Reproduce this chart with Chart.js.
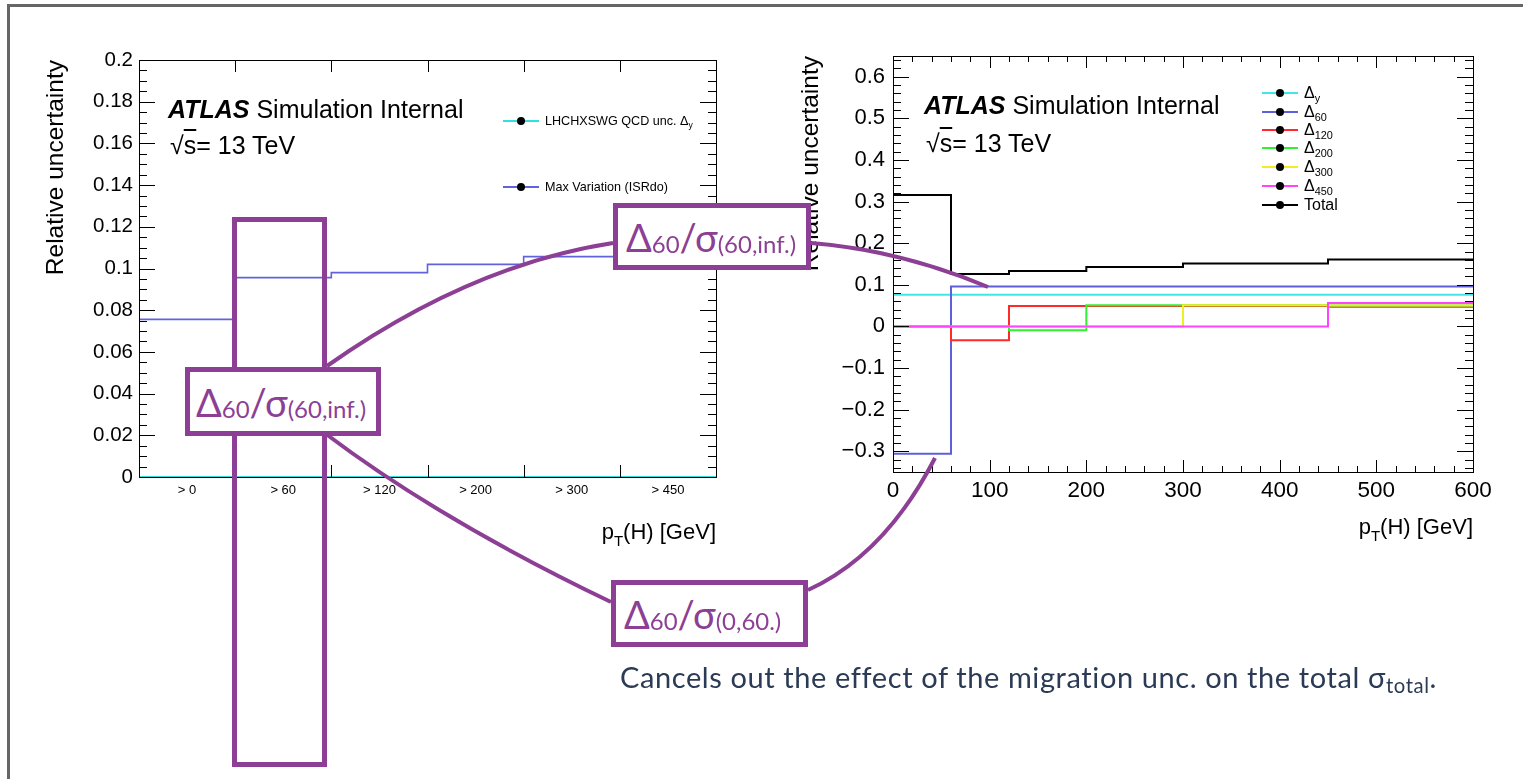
<!DOCTYPE html>
<html>
<head>
<meta charset="utf-8">
<script src="https://cdn.jsdelivr.net/npm/chart.js@4.4.1/dist/chart.umd.min.js"></script>
<style>
  body { margin: 0; background: #fff; }
  #slide { position: relative; width: 1523px; height: 779px; overflow: hidden; font-family: "Liberation Sans", Arial, sans-serif; }
  #frame { position: absolute; left: 7px; top: 4px; right: -10px; bottom: -10px; border-top: 3px solid #666; border-left: 3px solid #666; }
  canvas { position: absolute; top: 0; }
  .t { position: absolute; white-space: nowrap; color: #000; }
  .atlas { font-size: 25px; line-height: 25px; }
  .xt { font-size: 22px; line-height: 22px; }
  .xt sub { font-size: 15px; vertical-align: baseline; position: relative; top: 7px; }
  .legend { position: absolute; }
  .lrow { position: absolute; left: 0; display: flex; align-items: center; height: 16px; white-space: nowrap; }
  .lrow svg { margin-right: 6px; }
  .lrow sub { font-size: 0.68em; vertical-align: baseline; position: relative; top: 0.35em; }
  .box { position: absolute; box-sizing: border-box; border: 5px solid #8c3f94; background: #fff; color: #8c3f94;
         font-family: Lato, "Noto Sans", sans-serif; font-size: 38px; display: flex; align-items: center; padding-left: 6px; white-space: nowrap; }
  .box sub { font-size: 0.63em; vertical-align: baseline; position: relative; top: 0.3em; }
  #tall { position: absolute; left: 232px; top: 217px; width: 95px; height: 550px; box-sizing: border-box; border: 5px solid #8c3f94; }
  #caption { position: absolute; left: 620px; top: 659px; font-family: Lato, "Noto Sans", sans-serif; font-size: 29px; letter-spacing: 0.6px; color: #2b3a55; white-space: nowrap; }
  #caption sub { font-size: 0.7em; vertical-align: baseline; position: relative; top: 0.25em; }
</style>
</head>
<body>
<div id="slide">
  <div id="frame"></div>
  <canvas id="leftChart" width="745" height="560" style="left:0px"></canvas>
  <canvas id="rightChart" width="763" height="560" style="left:760px"></canvas>

  <div class="t atlas" style="left:168px; top:97px"><b><i>ATLAS</i></b> Simulation Internal</div>
  <div class="t atlas" style="left:170px; top:133px">&radic;<span style="text-decoration:overline">s</span>= 13 TeV</div>
  <div class="t atlas" style="left:924px; top:93px"><b><i>ATLAS</i></b> Simulation Internal</div>
  <div class="t atlas" style="left:926px; top:131px">&radic;<span style="text-decoration:overline">s</span>= 13 TeV</div>

  <div class="t xt" style="right:807px; top:521px">p<sub>T</sub>(H) [GeV]</div>
  <div class="t xt" style="right:50px; top:516px">p<sub>T</sub>(H) [GeV]</div>

  <div class="legend" id="leftLegend" style="left:503px; top:0px; font-size:12.6px"></div>
  <div class="legend" id="rightLegend" style="left:1262px; top:0px; font-size:16px"></div>

  <div id="tall"></div>
  <svg width="1523" height="779" style="position:absolute; left:0; top:0">
    <g fill="none" stroke="#8c3f94" stroke-width="4">
      <path d="M 327 366 Q 470 265 613 243"/>
      <path d="M 811 243 Q 900 250 988 287"/>
      <path d="M 326 434 Q 440 520 611 602"/>
      <path d="M 808 590 Q 885 555 935 458"/>
    </g>
  </svg>
  <div class="box" style="left:185px; top:367px; width:196px; height:69px">&Delta;<sub>60</sub>/&sigma;<sub>(60,inf.)</sub></div>
  <div class="box" style="left:613px; top:203px; width:198px; height:67px; padding-left:8px">&Delta;<sub>60</sub>/&sigma;<sub>(60,inf.)</sub></div>
  <div class="box" style="left:611px; top:580px; width:197px; height:67px; padding-left:8px">&Delta;<sub>60</sub>/&sigma;<sub>(0,60.)</sub></div>

  <div id="caption">Cancels out the effect of the migration unc. on the total &sigma;<sub>total</sub>.</div>
</div>

<script>
// left panel: inclusive pT bins
const leftBins = ['> 0', '> 60', '> 120', '> 200', '> 300', '> 450'];
const leftEdges = [0, 1, 2, 3, 4, 5, 6];
const leftQcd = [0, 0, 0, 0, 0, 0];
const leftMaxVar = [0.0756, 0.0956, 0.098, 0.102, 0.1057, 0.106];
const leftYTicks = [0, 0.02, 0.04, 0.06, 0.08, 0.1, 0.12, 0.14, 0.16, 0.18, 0.2];

// right panel: migration uncertainties vs pT
const rightEdges = [0, 60, 120, 200, 300, 450, 600];
const deltaY = [0.076, 0.076, 0.076, 0.076, 0.076, 0.076];
const delta60 = [-0.306, 0.096, 0.096, 0.096, 0.096, 0.096];
const delta120 = [0, -0.033, 0.049, 0.049, 0.049, 0.047];
const delta200 = [0, 0, -0.009, 0.051, 0.051, 0.05];
const delta300 = [0, 0, 0, 0, 0.051, 0.05];
const delta450 = [0, 0, 0, 0, 0, 0.056];
const total = [0.3156, 0.126, 0.133, 0.1426, 0.1514, 0.161];
const rightXTicks = [0, 100, 200, 300, 400, 500, 600];
const rightYTicks = [-0.3, -0.2, -0.1, 0, 0.1, 0.2, 0.3, 0.4, 0.5, 0.6];

function stepPoints(edges, values) {
    const pts = values.map((v, i) => ({ x: edges[i], y: v }));
    pts.push({ x: edges[edges.length - 1], y: values[values.length - 1] });
    return pts;
}

function fmt(v) {
    const s = String(+v.toFixed(2));
    return s.replace('-', '\u2212');
}

function minorTicks(lo, hi, step) {
    const out = [];
    const n = Math.round((hi - lo) / step);
    for (let i = 0; i <= n; i++) out.push(lo + i * step);
    return out;
}

// ROOT style frame with inward ticks on all four sides
const rootFrame = {
    id: 'rootFrame',
    afterDatasetsDraw(chart, args, o) {
        const { ctx, chartArea: a, scales } = chart;
        ctx.save();
        ctx.strokeStyle = '#000';
        ctx.lineWidth = 1;
        ctx.beginPath();
        const yTick = (v, len) => {
            const p = Math.round(scales.y.getPixelForValue(v)) + 0.5;
            ctx.moveTo(a.left, p); ctx.lineTo(a.left + len, p);
            ctx.moveTo(a.right, p); ctx.lineTo(a.right - len, p);
        };
        const xTick = (v, len) => {
            const p = Math.round(scales.x.getPixelForValue(v)) + 0.5;
            ctx.moveTo(p, a.bottom); ctx.lineTo(p, a.bottom - len);
            ctx.moveTo(p, a.top); ctx.lineTo(p, a.top + len);
        };
        o.yMinor.forEach(v => yTick(v, o.yMinLen));
        o.yMajor.forEach(v => yTick(v, o.yMajLen));
        o.xMinor.forEach(v => xTick(v, o.xMinLen));
        o.xMajor.forEach(v => xTick(v, o.xMajLen));
        ctx.stroke();
        ctx.strokeRect(Math.round(a.left) + 0.5, Math.round(a.top) + 0.5,
            Math.round(a.right - a.left), Math.round(a.bottom - a.top));
        ctx.restore();
    }
};

const leftSets = [
    { label: 'LHCHXSWG QCD unc. &Delta;<sub>y</sub>', data: stepPoints(leftEdges, leftQcd), borderColor: '#33dede', borderWidth: 2, order: 2 },
    { label: 'Max Variation (ISRdo)', data: stepPoints(leftEdges, leftMaxVar), borderColor: '#6262dc', borderWidth: 1.6, order: 1 }
];
leftSets.forEach(d => { d.stepped = true; d.pointRadius = 0; d.fill = false; });

new Chart(document.getElementById('leftChart'), {
    type: 'line',
    data: { datasets: leftSets },
    options: {
        responsive: false,
        animation: false,
        layout: { padding: { top: 60, right: 29, left: 0, bottom: 0 } },
        plugins: {
            legend: { display: false },
            tooltip: { enabled: false },
            rootFrame: {
                yMajor: leftYTicks, yMinor: minorTicks(0, 0.2, 0.005), yMajLen: 16, yMinLen: 8,
                xMajor: leftEdges, xMinor: [], xMajLen: 12, xMinLen: 0
            }
        },
        scales: {
            x: {
                type: 'linear', min: 0, max: 6,
                grid: { display: false, drawTicks: false }, border: { display: false },
                afterBuildTicks: s => { s.ticks = leftBins.map((b, i) => ({ value: i + 0.5 })); },
                ticks: { callback: (v, i) => leftBins[i], font: { size: 13 }, color: '#000', padding: 6, maxRotation: 0, autoSkip: false },
                afterFit: s => { s.height = 83; }
            },
            y: {
                min: 0, max: 0.2,
                grid: { display: false, drawTicks: false }, border: { display: false },
                afterBuildTicks: s => { s.ticks = leftYTicks.map(v => ({ value: v })); },
                ticks: { callback: v => fmt(v), font: { size: 20.5 }, color: '#000', padding: 6 },
                title: { display: true, text: 'Relative uncertainty', align: 'end', font: { size: 24.5 }, color: '#000', padding: { top: 42, bottom: 0 } },
                afterFit: s => { s.width = 139; }
            }
        }
    },
    plugins: [rootFrame]
});

const rightSets = [
    { label: '&Delta;<sub>y</sub>', data: stepPoints(rightEdges, deltaY), borderColor: '#3ee8e8' },
    { label: '&Delta;<sub>60</sub>', data: stepPoints(rightEdges, delta60), borderColor: '#5f5fdc' },
    { label: '&Delta;<sub>120</sub>', data: stepPoints(rightEdges, delta120), borderColor: '#ff2a2a' },
    { label: '&Delta;<sub>200</sub>', data: stepPoints(rightEdges, delta200), borderColor: '#33ee33' },
    { label: '&Delta;<sub>300</sub>', data: stepPoints(rightEdges, delta300), borderColor: '#eeee22' },
    { label: '&Delta;<sub>450</sub>', data: stepPoints(rightEdges, delta450), borderColor: '#ff44ff' },
    { label: 'Total', data: stepPoints(rightEdges, total), borderColor: '#000000' }
];
rightSets.forEach((d, i) => {
    d.stepped = true; d.pointRadius = 0; d.fill = false; d.borderWidth = 2;
    d.order = rightSets.length - i; // later entries drawn on top, like ROOT
});

new Chart(document.getElementById('rightChart'), {
    type: 'line',
    data: { datasets: rightSets },
    options: {
        responsive: false,
        animation: false,
        layout: { padding: { top: 56, right: 50, left: 0, bottom: 0 } },
        plugins: {
            legend: { display: false },
            tooltip: { enabled: false },
            rootFrame: {
                yMajor: rightYTicks, yMinor: minorTicks(-0.34, 0.64, 0.02), yMajLen: 16, yMinLen: 8,
                xMajor: rightXTicks, xMinor: minorTicks(0, 600, 20), xMajLen: 12, xMinLen: 6
            }
        },
        scales: {
            x: {
                type: 'linear', min: 0, max: 600,
                grid: { display: false, drawTicks: false }, border: { display: false },
                afterBuildTicks: s => { s.ticks = rightXTicks.map(v => ({ value: v })); },
                ticks: { callback: v => String(v), font: { size: 22.5 }, color: '#000', padding: 5, maxRotation: 0, autoSkip: false },
                afterFit: s => { s.height = 88; }
            },
            y: {
                min: -0.35, max: 0.65,
                grid: { display: false, drawTicks: false }, border: { display: false },
                afterBuildTicks: s => { s.ticks = rightYTicks.map(v => ({ value: v })); },
                ticks: { callback: v => fmt(v), font: { size: 22 }, color: '#000', padding: 8 },
                title: { display: true, text: 'Relative uncertainty', align: 'end', font: { size: 24.5 }, color: '#000', padding: { top: 37, bottom: 0 } },
                afterFit: s => { s.width = 133; }
            }
        }
    },
    plugins: [rootFrame]
});

// ROOT-like legends (line with a dot), built from the dataset labels
function buildLegend(el, sets, rows, lineW) {
    sets.forEach((d, i) => {
        const row = document.createElement('div');
        row.className = 'lrow';
        row.style.top = (rows[i] - 8) + 'px';
        row.innerHTML = '<svg width="' + lineW + '" height="10"><line x1="0" y1="5" x2="' + lineW + '" y2="5" stroke="' + d.borderColor +
            '" stroke-width="2"/><circle cx="' + (lineW / 2) + '" cy="5" r="4" fill="#000"/></svg><span>' + d.label + '</span>';
        el.appendChild(row);
    });
}
buildLegend(document.getElementById('leftLegend'), leftSets, [121, 187], 36);
buildLegend(document.getElementById('rightLegend'), rightSets, [93, 112, 130, 148, 167, 186, 205], 36);
</script>
</body>
</html>
